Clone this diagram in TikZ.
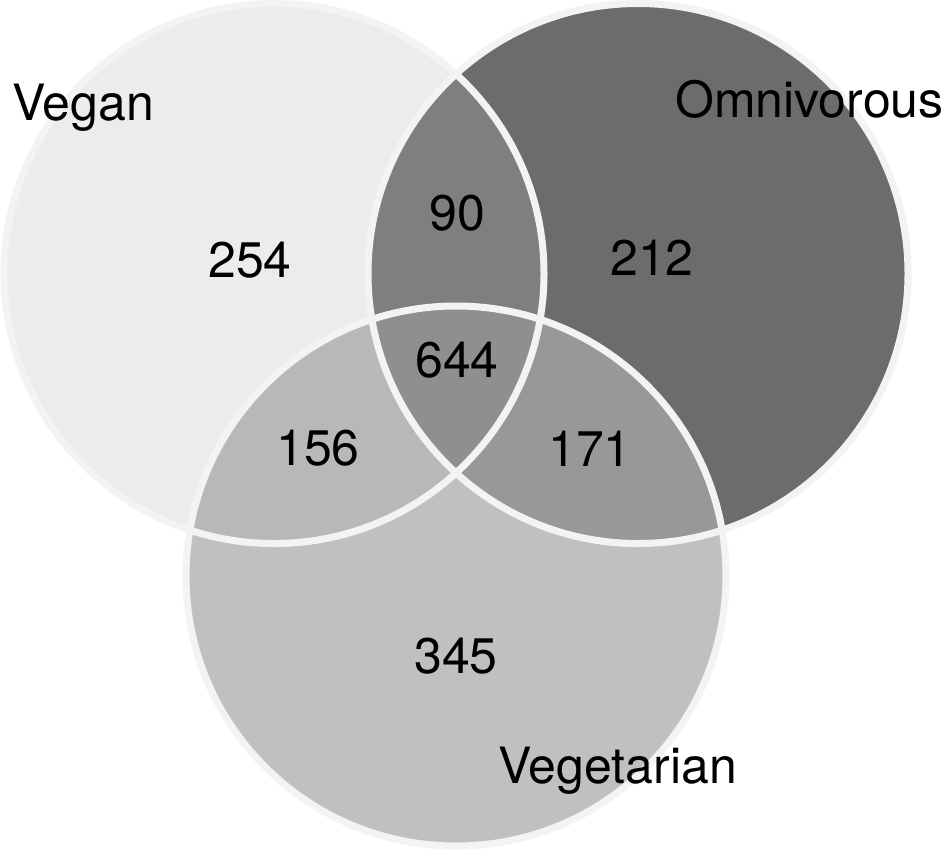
\documentclass[tikz,border=0pt]{standalone}
\usepackage{fontspec}
\setmainfont{TeX Gyre Heros}
\definecolor{vonly}{HTML}{ECECEC}
\definecolor{oonly}{HTML}{6C6C6C}
\definecolor{gonly}{HTML}{C0C0C0}
\definecolor{vo}{HTML}{7F7F7F}
\definecolor{vg}{HTML}{B8B8B8}
\definecolor{og}{HTML}{989898}
\definecolor{vog}{HTML}{8F8F8F}
\definecolor{rim}{HTML}{F3F3F3}
\tikzset{
  rimline/.style={draw=rim, line width=7pt},
  lbl/.style={font=\fontsize{50}{60}\selectfont, inner sep=0pt, text=black},
}
\begin{document}
\begin{tikzpicture}[x=1pt,y=-1pt]
\useasboundingbox (0,0) rectangle (950,852);
\fill[white] (0,0) rectangle (950,852);
\def\R{270}
\coordinate (cv) at (274,273.5);
\coordinate (co) at (638,273.5);
\coordinate (cg) at (456,576);
% single regions
\fill[vonly] (cv) circle (\R);
\fill[oonly] (co) circle (\R);
\fill[gonly] (cg) circle (\R);
% pairwise
\begin{scope}
  \clip (cv) circle (\R);
  \fill[vo] (co) circle (\R);
\end{scope}
\begin{scope}
  \clip (cv) circle (\R);
  \fill[vg] (cg) circle (\R);
\end{scope}
\begin{scope}
  \clip (co) circle (\R);
  \fill[og] (cg) circle (\R);
\end{scope}
\begin{scope}
  \clip (cv) circle (\R);
  \clip (co) circle (\R);
  \fill[vog] (cg) circle (\R);
\end{scope}
% rims
\draw[rimline] (cv) circle (\R);
\draw[rimline] (co) circle (\R);
\draw[rimline] (cg) circle (\R);
% labels
\node[lbl, anchor=base west] (tv) at (12,120) {Vegan};
\node[lbl, anchor=base west] (to) at (675,117) {Omnivorous};
\node[lbl, anchor=base west] (tg) at (498,783) {Vegetarian};
\node[lbl] (n254) at (250,260) {254};
\node[lbl] (n90) at (457,213) {90};
\node[lbl] (n212) at (652,258) {212};
\node[lbl] (n644) at (457,360) {644};
\node[lbl] (n156) at (318,448) {156};
\node[lbl] (n171) at (590,449) {171};
\node[lbl] (n345) at (456,656) {345};
\end{tikzpicture}
\end{document}
